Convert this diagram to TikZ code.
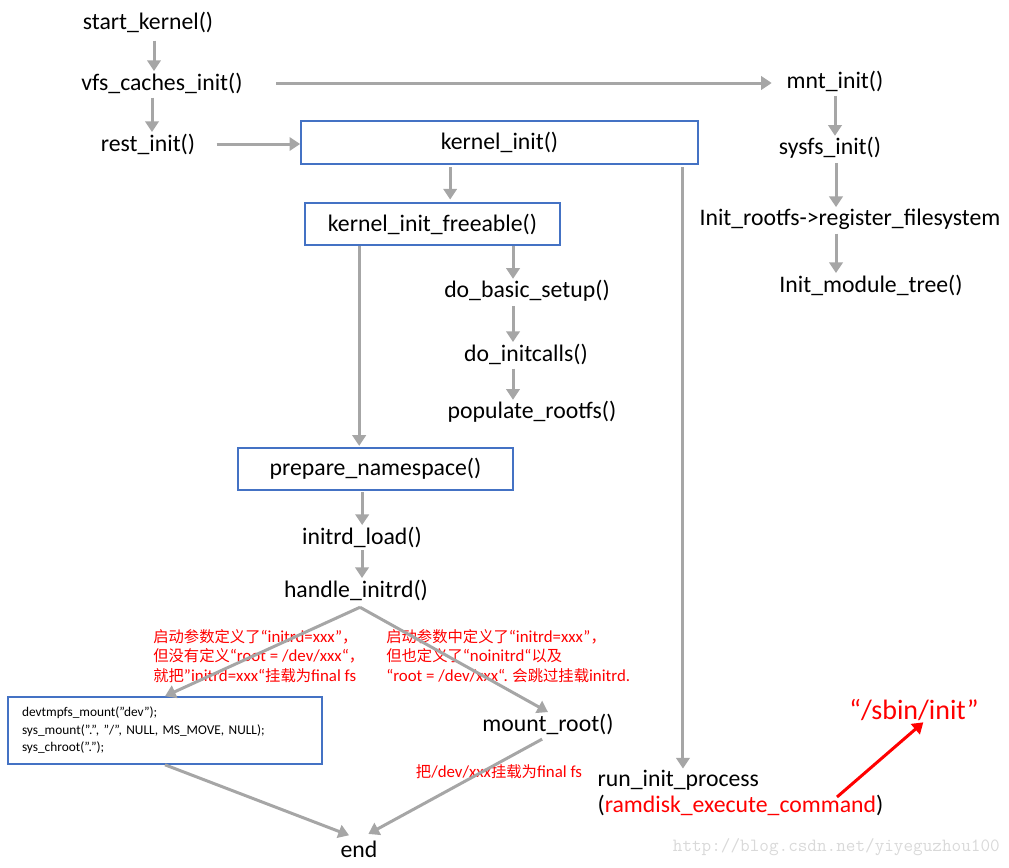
\documentclass[tikz,border=0pt]{standalone}
\usepackage{fontspec}
\setmainfont{Carlito}
\newfontfamily\cjk{Noto Sans CJK SC}
\newfontfamily\lat[Scale=1.1]{Carlito}
\usepackage{tikz}
\usetikzlibrary{arrows.meta, positioning}
\definecolor{bkArrow}{HTML}{A6A6A6}
\definecolor{bkBlue}{HTML}{4472C4}
\definecolor{bkRed}{HTML}{FF0000}
\definecolor{bkMark}{HTML}{D9D9D9}

\begin{document}
\begin{tikzpicture}[x=0.75pt, y=-0.75pt,
  fn/.style={font=\fontsize{17.8}{21}\selectfont, inner sep=1pt},
  box/.style={draw=bkBlue, line width=1.2pt, font=\fontsize{17.8}{21}\selectfont, inner sep=0pt},
  note/.style={font=\cjk\fontsize{11.5}{14.6}\selectfont, text=bkRed, align=left, inner sep=0pt},
  arr/.style={draw=bkArrow, line width=2.25pt, -{Triangle[length=8pt, width=10pt]}},
  redarr/.style={draw=bkRed, line width=2.25pt, -{Triangle[length=8pt, width=10pt]}},
]
  \useasboundingbox (0,0) rectangle (1009,867);

  % left column
  \node[fn] (start) at (148,22) {start\_kernel()};
  \node[fn] (vfs) at (162,83) {vfs\_caches\_init()};
  \node[fn] (rest) at (148,144) {rest\_init()};

  % mnt_init branch
  \node[fn] (mnt) at (835,81) {mnt\_init()};
  \node[fn] (sysfs) at (830,148) {sysfs\_init()};
  \node[fn] (rootfs) at (850,219) {Init\_rootfs->register\_filesystem};
  \node[fn] (modtree) at (871,285) {Init\_module\_tree()};

  % kernel_init
  \node[box, minimum width=297.75pt, minimum height=32.25pt] (kinit) at (499.5,142.5) {kernel\_init()};
  \node[box, minimum width=191.25pt, minimum height=31.5pt] (kfree) at (432.5,224) {kernel\_init\_freeable()};
  \node[fn] (basic) at (527,291) {do\_basic\_setup()};
  \node[fn] (initcalls) at (526,354) {do\_initcalls()};
  \node[fn] (populate) at (532,412) {populate\_rootfs()};

  % prepare_namespace
  \node[box, minimum width=206.25pt, minimum height=31.5pt] (prepns) at (375.5,469) {prepare\_namespace()};
  \node[fn] (initrd) at (362,537) {initrd\_load()};
  \node[fn] (handle) at (356,590) {handle\_initrd()};

  \node[note, anchor=west] (noteL) at (153,656)
    {启动参数定义了{\lat“initrd=xxx”}，\\但没有定义{\lat“root = /dev/xxx“}，\\就把{\lat”initrd=xxx“}挂载为{\lat final fs}};
  \node[note, anchor=west] (noteR) at (386,656)
    {启动参数中定义了{\lat“initrd=xxx”}，\\但也定义了{\lat“noinitrd“}以及\\{\lat“root = /dev/xxx“.} 会跳过挂载{\lat initrd.}};

  \node[draw=bkBlue, line width=1.2pt, minimum width=235.5pt, minimum height=50.25pt,
        inner xsep=10.5pt, text width=214.5pt, align=left,
        font=\fontsize{10}{13.1}\selectfont] (code) at (165,730.5)
    {devtmpfs\_mount("dev");\\sys\_mount(".", "/", NULL, MS\_MOVE, NULL);\\sys\_chroot(".");};
  \node[fn] (mount) at (548,724) {mount\_root()};
  \node[note] (noteM) at (499,772) {把{\lat/dev/xxx}挂载为{\lat final fs}};

  % run_init_process
  \node[fn, anchor=west, align=left, font=\fontsize{17.8}{19.5}\selectfont] (runinit) at (596,793)
    {run\_init\_process\\(\textcolor{bkRed}{ramdisk\_execute\_command})};
  \node[fn, text=bkRed, font=\fontsize{21}{25}\selectfont] (sbin) at (914,710) {“/sbin/init”};
  \coordinate (cmd) at (837,797);

  \node[fn] (end) at (359,849) {end};
  \node[font=\ttfamily\fontsize{14}{16}\selectfont, text=bkMark, anchor=east, inner sep=0pt] (mark) at (1000,847)
    {http://blog.csdn.net/yiyeguzhou100};

  % arrows
  \draw[arr, shorten <=5pt] ([xshift=4.5pt]start.south) -- ([xshift=4.5pt]start.south |- vfs.north);
  \draw[arr, shorten <=2pt] ([xshift=-7.5pt]vfs.south) -- ([xshift=-7.5pt]vfs.south |- rest.north);
  \draw[arr, shorten <=24pt, shorten >=10pt] (vfs.east) -- (vfs.east -| mnt.west);
  \draw[arr, shorten <=15pt] (rest.east) -- (rest.east -| kinit.west);
  \draw[arr, shorten <=2pt] (mnt.south) -- (mnt.south |- sysfs.north);
  \draw[arr, shorten <=2pt] ([xshift=4.5pt]sysfs.south) -- ([xshift=4.5pt]sysfs.south |- rootfs.north);
  \draw[arr, shorten <=2pt] ([xshift=-10.5pt]rootfs.south) -- ([xshift=-10.5pt]rootfs.south |- modtree.north);
  \draw[arr, shorten <=2pt, shorten >=2pt] ([xshift=-37pt]kinit.south) -- ([xshift=-37pt]kinit.south |- kfree.north);
  \draw[arr] ([xshift=60.4pt]kfree.south) -- ([xshift=60.4pt]kfree.south |- basic.north);
  \draw[arr, shorten <=2pt] ([xshift=-10.5pt]basic.south) -- ([xshift=-10.5pt]basic.south |- initcalls.north);
  \draw[arr, shorten <=2pt] ([xshift=-9.75pt]initcalls.south) -- ([xshift=-9.75pt]initcalls.south |- populate.north);
  \draw[arr, shorten >=1pt] ([xshift=-55pt]kfree.south) -- ([xshift=-55pt]kfree.south |- prepns.north);
  \draw[arr, shorten <=1pt] ([xshift=-10pt]prepns.south) -- ([xshift=-10pt]prepns.south |- initrd.north);
  \draw[arr, shorten <=1pt] (initrd.south) -- (initrd.south |- handle.north);
  \draw[arr] ([xshift=3pt,yshift=-4pt]handle.south) -- (code.north);
  \draw[arr] ([xshift=3pt,yshift=-4pt]handle.south) -- (mount.north);
  \draw[arr, shorten <=2pt] ([xshift=137.6pt]kinit.south) -- ([xshift=137.6pt]kinit.south |- runinit.north);
  \draw[arr, shorten >=8pt] (code.south) -- (end.north);
  \draw[arr, shorten <=5pt, shorten >=8pt] (mount.south) -- (end.north);
  \draw[redarr] (cmd) -- ([xshift=7pt]sbin.south);
\end{tikzpicture}
\end{document}
